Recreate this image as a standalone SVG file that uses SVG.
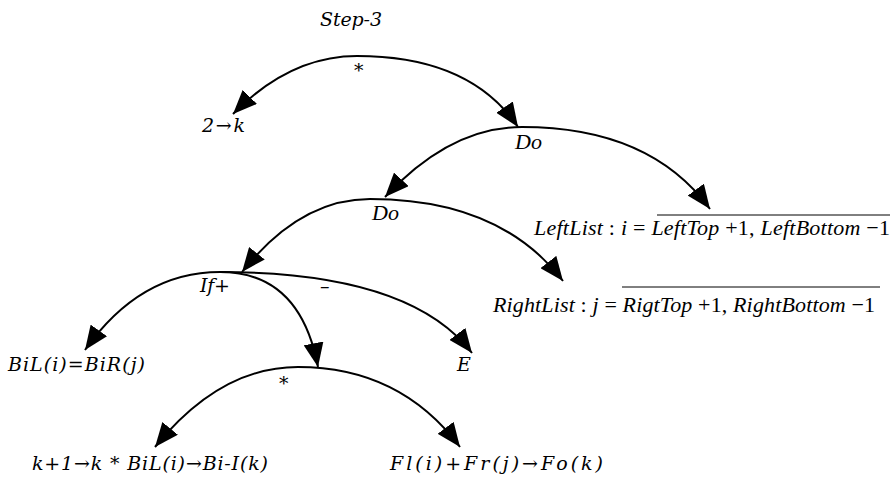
<svg xmlns="http://www.w3.org/2000/svg" width="896" height="479" viewBox="0 0 896 479">
<style>
.c{fill:none;stroke:#000;stroke-width:2;marker-end:url(#ah)}
.s{font-family:"DejaVu Serif","Liberation Serif",serif;font-style:italic;font-size:19px;fill:#000}
.t{font-family:"Liberation Serif","Times New Roman",serif;font-style:italic;font-size:22px;fill:#000}
.u{font-style:normal}
.ov{stroke:#000;stroke-width:1}
</style>
<defs>
<marker id="ah" markerUnits="userSpaceOnUse" viewBox="0 0 24 20" refX="24" refY="10" markerWidth="24" markerHeight="20" orient="auto">
<path d="M0,0 L24,10 L0,20 z" fill="#000"/>
</marker>
</defs>
<rect width="896" height="479" fill="#fff"/>
<g id="connectors">
<path class="c" d="M357,56 Q290,56 233,114"/>
<path class="c" d="M357,56 Q470,56 518,127"/>
<path class="c" d="M522,127 Q450,127 385,197"/>
<path class="c" d="M522,127 Q650,127 710,209"/>
<path class="c" d="M370,199 Q300,199 242,272"/>
<path class="c" d="M370,199 Q500,199 563,281"/>
<path class="c" d="M220,272 Q140,272 85,350"/>
<path class="c" d="M220,272 Q300,272 318,367"/>
<path class="c" d="M220,272 Q410,272 472,353"/>
<path class="c" d="M298,367 Q220,367 155,447"/>
<path class="c" d="M298,367 Q400,367 460,447"/>
</g>
<g id="step3"><text class="s" x="320" y="26" textLength="62">Step-3</text></g>
<g id="root"><text class="s" x="354" y="77">*</text></g>
<g id="n2k"><text class="s" x="202" y="132" textLength="43">2→k</text></g>
<g id="do1"><text class="t" x="515" y="149">Do</text></g>
<g id="do2"><text class="t" x="372" y="220">Do</text></g>
<g id="leftlist"><text class="t" x="534" y="235" textLength="356">LeftList<tspan class="u"> : </tspan>i<tspan class="u"> = </tspan>LeftTop<tspan class="u"> +1, </tspan>LeftBottom<tspan class="u"> −1</tspan></text>
<line class="ov" x1="657" y1="215" x2="890" y2="215"/></g>
<g id="rightlist"><text class="t" x="493" y="312" textLength="382">RightList<tspan class="u"> : </tspan>j<tspan class="u"> = </tspan>RigtTop<tspan class="u"> +1, </tspan>RightBottom<tspan class="u"> −1</tspan></text>
<line class="ov" x1="622" y1="287" x2="880" y2="287"/></g>
<g id="if"><text class="s" x="200" y="292" textLength="30">If+</text><text class="s" x="320" y="293">–</text></g>
<g id="bil"><text class="s" x="8" y="371" textLength="137">BiL(i)=BiR(j)</text></g>
<g id="e"><text class="s" x="457" y="371">E</text></g>
<g id="star2"><text class="s" x="279" y="390">*</text></g>
<g id="kk"><text class="s" x="32" y="470" textLength="236">k+1→k * BiL(i)→Bi-I(k)</text></g>
<g id="fl"><text class="s" x="390" y="470" textLength="213">Fl(i)+Fr(j)→Fo(k)</text></g>
</svg>
